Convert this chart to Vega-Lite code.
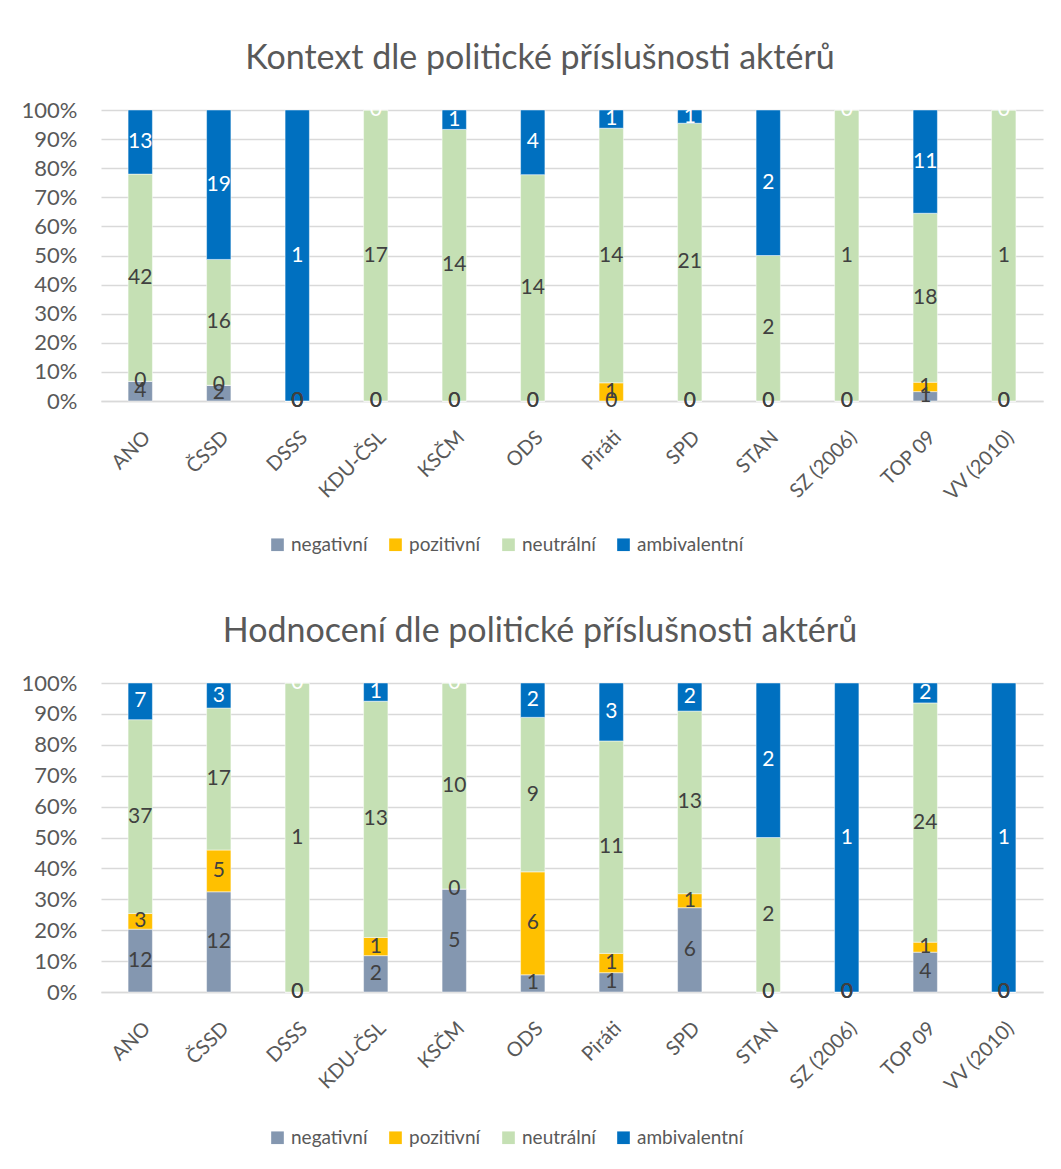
{
  "$schema": "https://vega.github.io/schema/vega-lite/v6.json",
  "background": "white",
  "padding": {"left": 5, "top": 42, "right": 5, "bottom": 5},
  "spacing": 60,
  "datasets": {
    "kontext": [
      {"strana": "ANO", "kategorie": "negativní", "pocet": 4, "poradi": 1},
      {"strana": "ANO", "kategorie": "pozitivní", "pocet": 0, "poradi": 2},
      {"strana": "ANO", "kategorie": "neutrální", "pocet": 42, "poradi": 3},
      {"strana": "ANO", "kategorie": "ambivalentní", "pocet": 13, "poradi": 4},
      {"strana": "ČSSD", "kategorie": "negativní", "pocet": 2, "poradi": 1},
      {"strana": "ČSSD", "kategorie": "pozitivní", "pocet": 0, "poradi": 2},
      {"strana": "ČSSD", "kategorie": "neutrální", "pocet": 16, "poradi": 3},
      {"strana": "ČSSD", "kategorie": "ambivalentní", "pocet": 19, "poradi": 4},
      {"strana": "DSSS", "kategorie": "negativní", "pocet": 0, "poradi": 1},
      {"strana": "DSSS", "kategorie": "pozitivní", "pocet": 0, "poradi": 2},
      {"strana": "DSSS", "kategorie": "neutrální", "pocet": 0, "poradi": 3},
      {"strana": "DSSS", "kategorie": "ambivalentní", "pocet": 1, "poradi": 4},
      {"strana": "KDU-ČSL", "kategorie": "negativní", "pocet": 0, "poradi": 1},
      {"strana": "KDU-ČSL", "kategorie": "pozitivní", "pocet": 0, "poradi": 2},
      {"strana": "KDU-ČSL", "kategorie": "neutrální", "pocet": 17, "poradi": 3},
      {"strana": "KDU-ČSL", "kategorie": "ambivalentní", "pocet": 0, "poradi": 4},
      {"strana": "KSČM", "kategorie": "negativní", "pocet": 0, "poradi": 1},
      {"strana": "KSČM", "kategorie": "pozitivní", "pocet": 0, "poradi": 2},
      {"strana": "KSČM", "kategorie": "neutrální", "pocet": 14, "poradi": 3},
      {"strana": "KSČM", "kategorie": "ambivalentní", "pocet": 1, "poradi": 4},
      {"strana": "ODS", "kategorie": "negativní", "pocet": 0, "poradi": 1},
      {"strana": "ODS", "kategorie": "pozitivní", "pocet": 0, "poradi": 2},
      {"strana": "ODS", "kategorie": "neutrální", "pocet": 14, "poradi": 3},
      {"strana": "ODS", "kategorie": "ambivalentní", "pocet": 4, "poradi": 4},
      {"strana": "Piráti", "kategorie": "negativní", "pocet": 0, "poradi": 1},
      {"strana": "Piráti", "kategorie": "pozitivní", "pocet": 1, "poradi": 2},
      {"strana": "Piráti", "kategorie": "neutrální", "pocet": 14, "poradi": 3},
      {"strana": "Piráti", "kategorie": "ambivalentní", "pocet": 1, "poradi": 4},
      {"strana": "SPD", "kategorie": "negativní", "pocet": 0, "poradi": 1},
      {"strana": "SPD", "kategorie": "pozitivní", "pocet": 0, "poradi": 2},
      {"strana": "SPD", "kategorie": "neutrální", "pocet": 21, "poradi": 3},
      {"strana": "SPD", "kategorie": "ambivalentní", "pocet": 1, "poradi": 4},
      {"strana": "STAN", "kategorie": "negativní", "pocet": 0, "poradi": 1},
      {"strana": "STAN", "kategorie": "pozitivní", "pocet": 0, "poradi": 2},
      {"strana": "STAN", "kategorie": "neutrální", "pocet": 2, "poradi": 3},
      {"strana": "STAN", "kategorie": "ambivalentní", "pocet": 2, "poradi": 4},
      {"strana": "SZ (2006)", "kategorie": "negativní", "pocet": 0, "poradi": 1},
      {"strana": "SZ (2006)", "kategorie": "pozitivní", "pocet": 0, "poradi": 2},
      {"strana": "SZ (2006)", "kategorie": "neutrální", "pocet": 1, "poradi": 3},
      {"strana": "SZ (2006)", "kategorie": "ambivalentní", "pocet": 0, "poradi": 4},
      {"strana": "TOP 09", "kategorie": "negativní", "pocet": 1, "poradi": 1},
      {"strana": "TOP 09", "kategorie": "pozitivní", "pocet": 1, "poradi": 2},
      {"strana": "TOP 09", "kategorie": "neutrální", "pocet": 18, "poradi": 3},
      {"strana": "TOP 09", "kategorie": "ambivalentní", "pocet": 11, "poradi": 4},
      {"strana": "VV (2010)", "kategorie": "negativní", "pocet": 0, "poradi": 1},
      {"strana": "VV (2010)", "kategorie": "pozitivní", "pocet": 0, "poradi": 2},
      {"strana": "VV (2010)", "kategorie": "neutrální", "pocet": 1, "poradi": 3},
      {"strana": "VV (2010)", "kategorie": "ambivalentní", "pocet": 0, "poradi": 4}
    ],
    "hodnoceni": [
      {"strana": "ANO", "kategorie": "negativní", "pocet": 12, "poradi": 1},
      {"strana": "ANO", "kategorie": "pozitivní", "pocet": 3, "poradi": 2},
      {"strana": "ANO", "kategorie": "neutrální", "pocet": 37, "poradi": 3},
      {"strana": "ANO", "kategorie": "ambivalentní", "pocet": 7, "poradi": 4},
      {"strana": "ČSSD", "kategorie": "negativní", "pocet": 12, "poradi": 1},
      {"strana": "ČSSD", "kategorie": "pozitivní", "pocet": 5, "poradi": 2},
      {"strana": "ČSSD", "kategorie": "neutrální", "pocet": 17, "poradi": 3},
      {"strana": "ČSSD", "kategorie": "ambivalentní", "pocet": 3, "poradi": 4},
      {"strana": "DSSS", "kategorie": "negativní", "pocet": 0, "poradi": 1},
      {"strana": "DSSS", "kategorie": "pozitivní", "pocet": 0, "poradi": 2},
      {"strana": "DSSS", "kategorie": "neutrální", "pocet": 1, "poradi": 3},
      {"strana": "DSSS", "kategorie": "ambivalentní", "pocet": 0, "poradi": 4},
      {"strana": "KDU-ČSL", "kategorie": "negativní", "pocet": 2, "poradi": 1},
      {"strana": "KDU-ČSL", "kategorie": "pozitivní", "pocet": 1, "poradi": 2},
      {"strana": "KDU-ČSL", "kategorie": "neutrální", "pocet": 13, "poradi": 3},
      {"strana": "KDU-ČSL", "kategorie": "ambivalentní", "pocet": 1, "poradi": 4},
      {"strana": "KSČM", "kategorie": "negativní", "pocet": 5, "poradi": 1},
      {"strana": "KSČM", "kategorie": "pozitivní", "pocet": 0, "poradi": 2},
      {"strana": "KSČM", "kategorie": "neutrální", "pocet": 10, "poradi": 3},
      {"strana": "KSČM", "kategorie": "ambivalentní", "pocet": 0, "poradi": 4},
      {"strana": "ODS", "kategorie": "negativní", "pocet": 1, "poradi": 1},
      {"strana": "ODS", "kategorie": "pozitivní", "pocet": 6, "poradi": 2},
      {"strana": "ODS", "kategorie": "neutrální", "pocet": 9, "poradi": 3},
      {"strana": "ODS", "kategorie": "ambivalentní", "pocet": 2, "poradi": 4},
      {"strana": "Piráti", "kategorie": "negativní", "pocet": 1, "poradi": 1},
      {"strana": "Piráti", "kategorie": "pozitivní", "pocet": 1, "poradi": 2},
      {"strana": "Piráti", "kategorie": "neutrální", "pocet": 11, "poradi": 3},
      {"strana": "Piráti", "kategorie": "ambivalentní", "pocet": 3, "poradi": 4},
      {"strana": "SPD", "kategorie": "negativní", "pocet": 6, "poradi": 1},
      {"strana": "SPD", "kategorie": "pozitivní", "pocet": 1, "poradi": 2},
      {"strana": "SPD", "kategorie": "neutrální", "pocet": 13, "poradi": 3},
      {"strana": "SPD", "kategorie": "ambivalentní", "pocet": 2, "poradi": 4},
      {"strana": "STAN", "kategorie": "negativní", "pocet": 0, "poradi": 1},
      {"strana": "STAN", "kategorie": "pozitivní", "pocet": 0, "poradi": 2},
      {"strana": "STAN", "kategorie": "neutrální", "pocet": 2, "poradi": 3},
      {"strana": "STAN", "kategorie": "ambivalentní", "pocet": 2, "poradi": 4},
      {"strana": "SZ (2006)", "kategorie": "negativní", "pocet": 0, "poradi": 1},
      {"strana": "SZ (2006)", "kategorie": "pozitivní", "pocet": 0, "poradi": 2},
      {"strana": "SZ (2006)", "kategorie": "neutrální", "pocet": 0, "poradi": 3},
      {"strana": "SZ (2006)", "kategorie": "ambivalentní", "pocet": 1, "poradi": 4},
      {"strana": "TOP 09", "kategorie": "negativní", "pocet": 4, "poradi": 1},
      {"strana": "TOP 09", "kategorie": "pozitivní", "pocet": 1, "poradi": 2},
      {"strana": "TOP 09", "kategorie": "neutrální", "pocet": 24, "poradi": 3},
      {"strana": "TOP 09", "kategorie": "ambivalentní", "pocet": 2, "poradi": 4},
      {"strana": "VV (2010)", "kategorie": "negativní", "pocet": 0, "poradi": 1},
      {"strana": "VV (2010)", "kategorie": "pozitivní", "pocet": 0, "poradi": 2},
      {"strana": "VV (2010)", "kategorie": "neutrální", "pocet": 0, "poradi": 3},
      {"strana": "VV (2010)", "kategorie": "ambivalentní", "pocet": 1, "poradi": 4}
    ]
  },
  "vconcat": [
    {
      "width": 942,
      "height": 291,
      "title": {"text": "Kontext dle politické příslušnosti aktérů", "fontSize": 34, "font": "Lato", "color": "#595959", "fontWeight": "normal", "anchor": "middle", "dx": -32, "offset": 23},
      "data": {"name": "kontext"},
      "encoding": {
        "x": {"field": "strana", "type": "nominal", "sort": null, "scale": {"paddingInner": 0.69, "paddingOuter": 0.345},
              "axis": {"title": null, "labelAngle": -45, "ticks": false, "domainColor": "#d9d9d9", "domainWidth": 1.3, "labelPadding": 26, "labelFontSize": 20, "labelColor": "#595959", "labelFont": "Lato"}}
      },
      "layer": [
        {
          "mark": {"type": "bar", "stroke": "white", "strokeWidth": 0.8, "strokeOpacity": 0.6},
          "encoding": {
            "y": {"field": "pocet", "type": "quantitative", "stack": "normalize",
                  "axis": {"format": ".0%", "values": [0, 0.1, 0.2, 0.3, 0.4, 0.5, 0.6, 0.7, 0.8, 0.9, 1], "tickCount": 20, "labelOverlap": false, "title": null, "domain": false, "ticks": false, "labelPadding": 24, "gridColor": "#d9d9d9", "gridWidth": 1.3, "labelFontSize": 22, "labelColor": "#595959", "labelFont": "Lato", "minExtent": 96, "maxExtent": 96}},
            "color": {"field": "kategorie", "type": "nominal",
                      "scale": {"domain": ["negativní", "pozitivní", "neutrální", "ambivalentní"], "range": ["#8497B0", "#FFC000", "#C5E0B4", "#0070C0"]},
                      "legend": {"orient": "none", "legendX": 167, "legendY": 425, "padding": 0, "direction": "horizontal", "title": null, "symbolType": "square", "symbolSize": 160, "symbolStrokeWidth": 0, "labelFontSize": 19, "labelColor": "#595959", "labelFont": "Lato", "columnPadding": 18}},
            "order": {"field": "poradi", "type": "quantitative"}
          }
        },
        {
          "mark": {"type": "text", "font": "Lato", "fontSize": 21},
          "encoding": {
            "y": {"field": "pocet", "type": "quantitative", "stack": "normalize", "bandPosition": 0.5,
                  "axis": {"format": ".0%", "values": [0, 0.1, 0.2, 0.3, 0.4, 0.5, 0.6, 0.7, 0.8, 0.9, 1], "tickCount": 20, "labelOverlap": false, "title": null, "domain": false, "ticks": false, "labelPadding": 24, "gridColor": "#d9d9d9", "gridWidth": 1.3, "labelFontSize": 22, "labelColor": "#595959", "labelFont": "Lato", "minExtent": 96, "maxExtent": 96}},
            "detail": {"field": "kategorie", "type": "nominal"},
            "order": {"field": "poradi", "type": "quantitative"},
            "text": {"field": "pocet", "type": "quantitative"},
            "color": {"condition": {"test": "datum.kategorie === 'ambivalentní'", "value": "white"}, "value": "#404040"}
          }
        }
      ]
    },
    {
      "width": 942,
      "height": 309,
      "title": {"text": "Hodnocení dle politické příslušnosti aktérů", "fontSize": 34, "font": "Lato", "color": "#595959", "fontWeight": "normal", "anchor": "middle", "dx": -32, "offset": 23},
      "data": {"name": "hodnoceni"},
      "encoding": {
        "x": {"field": "strana", "type": "nominal", "sort": null, "scale": {"paddingInner": 0.69, "paddingOuter": 0.345},
              "axis": {"title": null, "labelAngle": -45, "ticks": false, "domainColor": "#d9d9d9", "domainWidth": 1.3, "labelPadding": 26, "labelFontSize": 20, "labelColor": "#595959", "labelFont": "Lato"}}
      },
      "layer": [
        {
          "mark": {"type": "bar", "stroke": "white", "strokeWidth": 0.8, "strokeOpacity": 0.6},
          "encoding": {
            "y": {"field": "pocet", "type": "quantitative", "stack": "normalize",
                  "axis": {"format": ".0%", "values": [0, 0.1, 0.2, 0.3, 0.4, 0.5, 0.6, 0.7, 0.8, 0.9, 1], "tickCount": 20, "labelOverlap": false, "title": null, "domain": false, "ticks": false, "labelPadding": 24, "gridColor": "#d9d9d9", "gridWidth": 1.3, "labelFontSize": 22, "labelColor": "#595959", "labelFont": "Lato", "minExtent": 96, "maxExtent": 96}},
            "color": {"field": "kategorie", "type": "nominal",
                      "scale": {"domain": ["negativní", "pozitivní", "neutrální", "ambivalentní"], "range": ["#8497B0", "#FFC000", "#C5E0B4", "#0070C0"]},
                      "legend": {"orient": "none", "legendX": 167, "legendY": 445, "padding": 0, "direction": "horizontal", "title": null, "symbolType": "square", "symbolSize": 160, "symbolStrokeWidth": 0, "labelFontSize": 19, "labelColor": "#595959", "labelFont": "Lato", "columnPadding": 18}},
            "order": {"field": "poradi", "type": "quantitative"}
          }
        },
        {
          "mark": {"type": "text", "font": "Lato", "fontSize": 21},
          "encoding": {
            "y": {"field": "pocet", "type": "quantitative", "stack": "normalize", "bandPosition": 0.5,
                  "axis": {"format": ".0%", "values": [0, 0.1, 0.2, 0.3, 0.4, 0.5, 0.6, 0.7, 0.8, 0.9, 1], "tickCount": 20, "labelOverlap": false, "title": null, "domain": false, "ticks": false, "labelPadding": 24, "gridColor": "#d9d9d9", "gridWidth": 1.3, "labelFontSize": 22, "labelColor": "#595959", "labelFont": "Lato", "minExtent": 96, "maxExtent": 96}},
            "detail": {"field": "kategorie", "type": "nominal"},
            "order": {"field": "poradi", "type": "quantitative"},
            "text": {"field": "pocet", "type": "quantitative"},
            "color": {"condition": {"test": "datum.kategorie === 'ambivalentní'", "value": "white"}, "value": "#404040"}
          }
        }
      ]
    }
  ],
  "resolve": {"scale": {"color": "independent", "y": "independent", "x": "independent"}, "legend": {"color": "independent"}},
  "config": {"view": {"stroke": null}, "font": "Lato"}
}
